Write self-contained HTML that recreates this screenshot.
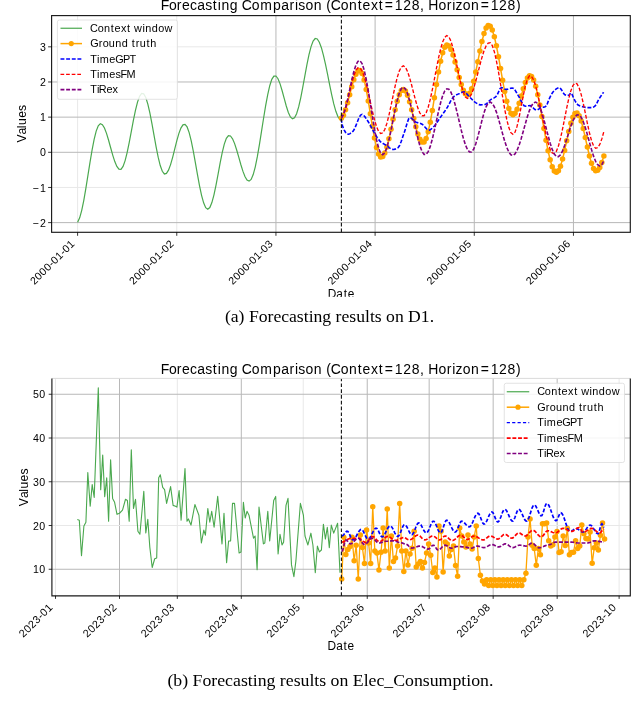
<!DOCTYPE html><html><head><meta charset="utf-8"><style>html,body{margin:0;padding:0;background:#fff;overflow:hidden}svg{display:block;will-change:transform}</style></head><body>
<svg width="640" height="707" viewBox="0 0 640 707">
<rect width="640" height="707" fill="#fff"/>
<line x1="77.60" y1="15.6" x2="77.60" y2="232.3" stroke="#e8e8e8" stroke-width="1"/>
<line x1="176.77" y1="15.6" x2="176.77" y2="232.3" stroke="#e8e8e8" stroke-width="1"/>
<line x1="275.94" y1="15.6" x2="275.94" y2="232.3" stroke="#b8b8b8" stroke-width="1"/>
<line x1="375.10" y1="15.6" x2="375.10" y2="232.3" stroke="#b8b8b8" stroke-width="1"/>
<line x1="474.27" y1="15.6" x2="474.27" y2="232.3" stroke="#b8b8b8" stroke-width="1"/>
<line x1="573.44" y1="15.6" x2="573.44" y2="232.3" stroke="#b8b8b8" stroke-width="1"/>
<line x1="51.6" y1="222.62" x2="630.3" y2="222.62" stroke="#b8b8b8" stroke-width="1"/>
<line x1="51.6" y1="187.46" x2="630.3" y2="187.46" stroke="#e8e8e8" stroke-width="1"/>
<line x1="51.6" y1="152.30" x2="630.3" y2="152.30" stroke="#b8b8b8" stroke-width="1"/>
<line x1="51.6" y1="117.14" x2="630.3" y2="117.14" stroke="#b8b8b8" stroke-width="1"/>
<line x1="51.6" y1="81.98" x2="630.3" y2="81.98" stroke="#b8b8b8" stroke-width="1"/>
<line x1="51.6" y1="46.82" x2="630.3" y2="46.82" stroke="#e8e8e8" stroke-width="1"/>
<path d="M77.60,222.22 L79.67,217.80 L81.73,210.32 L83.80,200.28 L85.86,188.38 L87.93,175.46 L90.00,162.39 L92.06,150.10 L94.13,139.42 L96.19,131.11 L98.26,125.73 L100.33,123.66 L102.39,124.65 L104.46,128.03 L106.52,133.41 L108.59,140.22 L110.66,147.72 L112.72,155.10 L114.79,161.56 L116.85,166.39 L118.92,169.08 L120.99,169.27 L123.05,166.41 L125.12,160.60 L127.18,152.34 L129.25,142.32 L131.32,131.38 L133.38,120.44 L135.45,110.42 L137.51,102.16 L139.58,96.35 L141.65,93.49 L143.71,93.83 L145.78,97.45 L147.84,104.06 L149.91,113.11 L151.98,123.86 L154.04,135.41 L156.11,146.82 L158.17,157.15 L160.24,165.54 L162.31,171.29 L164.37,173.95 L166.44,173.42 L168.50,170.18 L170.57,164.61 L172.64,157.32 L174.70,149.14 L176.77,140.95 L178.83,133.66 L180.90,128.09 L182.97,124.85 L185.03,124.32 L187.10,126.92 L189.16,132.58 L191.23,140.86 L193.30,151.12 L195.36,162.58 L197.43,174.36 L199.49,185.55 L201.56,195.30 L203.63,202.85 L205.69,207.63 L207.76,209.26 L209.82,207.56 L211.89,202.60 L213.96,194.85 L216.02,185.03 L218.09,174.03 L220.15,162.88 L222.22,152.60 L224.29,144.14 L226.35,138.29 L228.42,135.58 L230.48,136.01 L232.55,138.80 L234.62,143.62 L236.68,149.96 L238.75,157.17 L240.81,164.49 L242.88,171.17 L244.95,176.50 L247.01,179.94 L249.08,181.13 L251.14,179.47 L253.21,174.61 L255.28,166.84 L257.34,156.65 L259.41,144.69 L261.47,131.70 L263.54,118.51 L265.61,105.94 L267.67,94.77 L269.74,85.72 L271.80,79.35 L273.87,76.07 L275.94,76.00 L278.00,78.75 L280.07,83.88 L282.13,90.74 L284.20,98.45 L286.27,106.00 L288.33,112.43 L290.40,116.90 L292.46,118.84 L294.53,117.87 L296.60,113.79 L298.66,106.90 L300.73,97.77 L302.79,87.12 L304.86,75.79 L306.93,64.69 L308.99,54.70 L311.06,46.61 L313.12,41.08 L315.19,38.53 L317.26,39.03 L319.32,42.17 L321.39,47.70 L323.45,55.28 L325.52,64.41 L327.59,74.49 L329.65,84.88 L331.72,94.90 L333.78,103.89 L335.85,111.29 L337.92,116.59 L339.98,119.47" fill="none" stroke="#4aa84e" stroke-width="1.2"/>
<path d="M341.39,118.27 L343.45,115.17 L345.52,109.79 L347.59,102.74 L349.66,94.78 L351.72,86.81 L353.79,79.71 L355.86,74.26 L357.92,71.07 L359.99,70.53 L362.06,73.49 L364.12,79.96 L366.19,89.39 L368.26,100.95 L370.33,113.63 L372.39,126.33 L374.46,137.93 L376.53,147.43 L378.59,153.99 L380.66,157.04 L382.73,156.52 L384.79,153.05 L386.86,146.99 L388.93,138.86 L391.00,129.37 L393.06,119.35 L395.13,109.68 L397.20,101.19 L399.26,94.63 L401.33,90.58 L403.40,89.38 L405.46,91.05 L407.53,95.37 L409.60,101.87 L411.67,109.86 L413.73,118.49 L415.80,126.85 L417.87,134.05 L419.93,139.32 L422.00,142.10 L424.07,142.01 L426.14,138.49 L428.20,131.71 L430.27,122.15 L432.34,110.53 L434.40,97.68 L436.47,84.54 L438.54,72.08 L440.60,61.20 L442.67,52.70 L444.74,47.19 L446.81,45.08 L448.87,46.09 L450.94,49.49 L453.01,54.95 L455.07,61.92 L457.14,69.69 L459.21,77.50 L461.27,84.56 L463.34,90.17 L465.41,93.77 L467.48,94.99 L469.54,93.35 L471.61,88.64 L473.68,81.30 L475.74,72.02 L477.81,61.63 L479.88,51.12 L481.95,41.44 L484.01,33.49 L486.08,28.01 L488.15,25.50 L490.21,26.20 L492.28,30.03 L494.35,36.74 L496.41,45.83 L498.48,56.66 L500.55,68.45 L502.62,80.35 L504.68,91.51 L506.75,101.13 L508.82,108.52 L510.88,113.14 L512.95,114.68 L515.02,113.24 L517.08,109.23 L519.15,103.24 L521.22,96.10 L523.29,88.83 L525.35,82.45 L527.42,77.88 L529.49,75.76 L531.55,76.43 L533.62,79.99 L535.69,86.24 L537.76,94.79 L539.82,105.11 L541.89,116.59 L543.96,128.52 L546.02,140.18 L548.09,150.84 L550.16,159.87 L552.22,166.72 L554.29,170.96 L556.36,172.34 L558.43,170.70 L560.49,166.13 L562.56,159.12 L564.63,150.39 L566.69,140.86 L568.76,131.51 L570.83,123.31 L572.89,117.13 L574.96,113.60 L577.03,113.10 L579.10,115.66 L581.16,121.00 L583.23,128.58 L585.30,137.57 L587.36,147.02 L589.43,155.94 L591.50,163.36 L593.56,168.51 L595.63,170.83 L597.70,170.29 L599.77,167.42 L601.83,162.48 L603.90,155.88" fill="none" stroke="#ffa500" stroke-width="1.5"/>
<circle cx="341.39" cy="118.27" r="2.75" fill="#ffa500"/>
<circle cx="343.45" cy="115.17" r="2.75" fill="#ffa500"/>
<circle cx="345.52" cy="109.79" r="2.75" fill="#ffa500"/>
<circle cx="347.59" cy="102.74" r="2.75" fill="#ffa500"/>
<circle cx="349.66" cy="94.78" r="2.75" fill="#ffa500"/>
<circle cx="351.72" cy="86.81" r="2.75" fill="#ffa500"/>
<circle cx="353.79" cy="79.71" r="2.75" fill="#ffa500"/>
<circle cx="355.86" cy="74.26" r="2.75" fill="#ffa500"/>
<circle cx="357.92" cy="71.07" r="2.75" fill="#ffa500"/>
<circle cx="359.99" cy="70.53" r="2.75" fill="#ffa500"/>
<circle cx="362.06" cy="73.49" r="2.75" fill="#ffa500"/>
<circle cx="364.12" cy="79.96" r="2.75" fill="#ffa500"/>
<circle cx="366.19" cy="89.39" r="2.75" fill="#ffa500"/>
<circle cx="368.26" cy="100.95" r="2.75" fill="#ffa500"/>
<circle cx="370.33" cy="113.63" r="2.75" fill="#ffa500"/>
<circle cx="372.39" cy="126.33" r="2.75" fill="#ffa500"/>
<circle cx="374.46" cy="137.93" r="2.75" fill="#ffa500"/>
<circle cx="376.53" cy="147.43" r="2.75" fill="#ffa500"/>
<circle cx="378.59" cy="153.99" r="2.75" fill="#ffa500"/>
<circle cx="380.66" cy="157.04" r="2.75" fill="#ffa500"/>
<circle cx="382.73" cy="156.52" r="2.75" fill="#ffa500"/>
<circle cx="384.79" cy="153.05" r="2.75" fill="#ffa500"/>
<circle cx="386.86" cy="146.99" r="2.75" fill="#ffa500"/>
<circle cx="388.93" cy="138.86" r="2.75" fill="#ffa500"/>
<circle cx="391.00" cy="129.37" r="2.75" fill="#ffa500"/>
<circle cx="393.06" cy="119.35" r="2.75" fill="#ffa500"/>
<circle cx="395.13" cy="109.68" r="2.75" fill="#ffa500"/>
<circle cx="397.20" cy="101.19" r="2.75" fill="#ffa500"/>
<circle cx="399.26" cy="94.63" r="2.75" fill="#ffa500"/>
<circle cx="401.33" cy="90.58" r="2.75" fill="#ffa500"/>
<circle cx="403.40" cy="89.38" r="2.75" fill="#ffa500"/>
<circle cx="405.46" cy="91.05" r="2.75" fill="#ffa500"/>
<circle cx="407.53" cy="95.37" r="2.75" fill="#ffa500"/>
<circle cx="409.60" cy="101.87" r="2.75" fill="#ffa500"/>
<circle cx="411.67" cy="109.86" r="2.75" fill="#ffa500"/>
<circle cx="413.73" cy="118.49" r="2.75" fill="#ffa500"/>
<circle cx="415.80" cy="126.85" r="2.75" fill="#ffa500"/>
<circle cx="417.87" cy="134.05" r="2.75" fill="#ffa500"/>
<circle cx="419.93" cy="139.32" r="2.75" fill="#ffa500"/>
<circle cx="422.00" cy="142.10" r="2.75" fill="#ffa500"/>
<circle cx="424.07" cy="142.01" r="2.75" fill="#ffa500"/>
<circle cx="426.14" cy="138.49" r="2.75" fill="#ffa500"/>
<circle cx="428.20" cy="131.71" r="2.75" fill="#ffa500"/>
<circle cx="430.27" cy="122.15" r="2.75" fill="#ffa500"/>
<circle cx="432.34" cy="110.53" r="2.75" fill="#ffa500"/>
<circle cx="434.40" cy="97.68" r="2.75" fill="#ffa500"/>
<circle cx="436.47" cy="84.54" r="2.75" fill="#ffa500"/>
<circle cx="438.54" cy="72.08" r="2.75" fill="#ffa500"/>
<circle cx="440.60" cy="61.20" r="2.75" fill="#ffa500"/>
<circle cx="442.67" cy="52.70" r="2.75" fill="#ffa500"/>
<circle cx="444.74" cy="47.19" r="2.75" fill="#ffa500"/>
<circle cx="446.81" cy="45.08" r="2.75" fill="#ffa500"/>
<circle cx="448.87" cy="46.09" r="2.75" fill="#ffa500"/>
<circle cx="450.94" cy="49.49" r="2.75" fill="#ffa500"/>
<circle cx="453.01" cy="54.95" r="2.75" fill="#ffa500"/>
<circle cx="455.07" cy="61.92" r="2.75" fill="#ffa500"/>
<circle cx="457.14" cy="69.69" r="2.75" fill="#ffa500"/>
<circle cx="459.21" cy="77.50" r="2.75" fill="#ffa500"/>
<circle cx="461.27" cy="84.56" r="2.75" fill="#ffa500"/>
<circle cx="463.34" cy="90.17" r="2.75" fill="#ffa500"/>
<circle cx="465.41" cy="93.77" r="2.75" fill="#ffa500"/>
<circle cx="467.48" cy="94.99" r="2.75" fill="#ffa500"/>
<circle cx="469.54" cy="93.35" r="2.75" fill="#ffa500"/>
<circle cx="471.61" cy="88.64" r="2.75" fill="#ffa500"/>
<circle cx="473.68" cy="81.30" r="2.75" fill="#ffa500"/>
<circle cx="475.74" cy="72.02" r="2.75" fill="#ffa500"/>
<circle cx="477.81" cy="61.63" r="2.75" fill="#ffa500"/>
<circle cx="479.88" cy="51.12" r="2.75" fill="#ffa500"/>
<circle cx="481.95" cy="41.44" r="2.75" fill="#ffa500"/>
<circle cx="484.01" cy="33.49" r="2.75" fill="#ffa500"/>
<circle cx="486.08" cy="28.01" r="2.75" fill="#ffa500"/>
<circle cx="488.15" cy="25.50" r="2.75" fill="#ffa500"/>
<circle cx="490.21" cy="26.20" r="2.75" fill="#ffa500"/>
<circle cx="492.28" cy="30.03" r="2.75" fill="#ffa500"/>
<circle cx="494.35" cy="36.74" r="2.75" fill="#ffa500"/>
<circle cx="496.41" cy="45.83" r="2.75" fill="#ffa500"/>
<circle cx="498.48" cy="56.66" r="2.75" fill="#ffa500"/>
<circle cx="500.55" cy="68.45" r="2.75" fill="#ffa500"/>
<circle cx="502.62" cy="80.35" r="2.75" fill="#ffa500"/>
<circle cx="504.68" cy="91.51" r="2.75" fill="#ffa500"/>
<circle cx="506.75" cy="101.13" r="2.75" fill="#ffa500"/>
<circle cx="508.82" cy="108.52" r="2.75" fill="#ffa500"/>
<circle cx="510.88" cy="113.14" r="2.75" fill="#ffa500"/>
<circle cx="512.95" cy="114.68" r="2.75" fill="#ffa500"/>
<circle cx="515.02" cy="113.24" r="2.75" fill="#ffa500"/>
<circle cx="517.08" cy="109.23" r="2.75" fill="#ffa500"/>
<circle cx="519.15" cy="103.24" r="2.75" fill="#ffa500"/>
<circle cx="521.22" cy="96.10" r="2.75" fill="#ffa500"/>
<circle cx="523.29" cy="88.83" r="2.75" fill="#ffa500"/>
<circle cx="525.35" cy="82.45" r="2.75" fill="#ffa500"/>
<circle cx="527.42" cy="77.88" r="2.75" fill="#ffa500"/>
<circle cx="529.49" cy="75.76" r="2.75" fill="#ffa500"/>
<circle cx="531.55" cy="76.43" r="2.75" fill="#ffa500"/>
<circle cx="533.62" cy="79.99" r="2.75" fill="#ffa500"/>
<circle cx="535.69" cy="86.24" r="2.75" fill="#ffa500"/>
<circle cx="537.76" cy="94.79" r="2.75" fill="#ffa500"/>
<circle cx="539.82" cy="105.11" r="2.75" fill="#ffa500"/>
<circle cx="541.89" cy="116.59" r="2.75" fill="#ffa500"/>
<circle cx="543.96" cy="128.52" r="2.75" fill="#ffa500"/>
<circle cx="546.02" cy="140.18" r="2.75" fill="#ffa500"/>
<circle cx="548.09" cy="150.84" r="2.75" fill="#ffa500"/>
<circle cx="550.16" cy="159.87" r="2.75" fill="#ffa500"/>
<circle cx="552.22" cy="166.72" r="2.75" fill="#ffa500"/>
<circle cx="554.29" cy="170.96" r="2.75" fill="#ffa500"/>
<circle cx="556.36" cy="172.34" r="2.75" fill="#ffa500"/>
<circle cx="558.43" cy="170.70" r="2.75" fill="#ffa500"/>
<circle cx="560.49" cy="166.13" r="2.75" fill="#ffa500"/>
<circle cx="562.56" cy="159.12" r="2.75" fill="#ffa500"/>
<circle cx="564.63" cy="150.39" r="2.75" fill="#ffa500"/>
<circle cx="566.69" cy="140.86" r="2.75" fill="#ffa500"/>
<circle cx="568.76" cy="131.51" r="2.75" fill="#ffa500"/>
<circle cx="570.83" cy="123.31" r="2.75" fill="#ffa500"/>
<circle cx="572.89" cy="117.13" r="2.75" fill="#ffa500"/>
<circle cx="574.96" cy="113.60" r="2.75" fill="#ffa500"/>
<circle cx="577.03" cy="113.10" r="2.75" fill="#ffa500"/>
<circle cx="579.10" cy="115.66" r="2.75" fill="#ffa500"/>
<circle cx="581.16" cy="121.00" r="2.75" fill="#ffa500"/>
<circle cx="583.23" cy="128.58" r="2.75" fill="#ffa500"/>
<circle cx="585.30" cy="137.57" r="2.75" fill="#ffa500"/>
<circle cx="587.36" cy="147.02" r="2.75" fill="#ffa500"/>
<circle cx="589.43" cy="155.94" r="2.75" fill="#ffa500"/>
<circle cx="591.50" cy="163.36" r="2.75" fill="#ffa500"/>
<circle cx="593.56" cy="168.51" r="2.75" fill="#ffa500"/>
<circle cx="595.63" cy="170.83" r="2.75" fill="#ffa500"/>
<circle cx="597.70" cy="170.29" r="2.75" fill="#ffa500"/>
<circle cx="599.77" cy="167.42" r="2.75" fill="#ffa500"/>
<circle cx="601.83" cy="162.48" r="2.75" fill="#ffa500"/>
<circle cx="603.90" cy="155.88" r="2.75" fill="#ffa500"/>
<path d="M341.10,118.90 L342.60,126.32 L344.10,129.89 L345.60,132.52 L347.10,134.09 L348.60,134.30 L350.10,133.63 L351.60,132.47 L353.10,131.11 L354.60,128.74 L356.10,125.17 L357.60,121.17 L359.10,117.52 L360.60,115.01 L362.10,114.37 L363.60,115.28 L365.10,117.07 L366.60,119.29 L368.10,121.50 L369.60,123.93 L371.10,126.76 L372.60,129.67 L374.10,132.37 L375.60,134.85 L377.10,137.33 L378.60,139.58 L380.10,141.38 L381.60,142.61 L383.10,143.55 L384.60,144.39 L386.10,145.32 L387.60,146.47 L389.10,147.67 L390.60,148.71 L392.10,149.36 L393.60,149.46 L395.10,149.12 L396.60,148.50 L398.10,147.66 L399.60,145.51 L401.10,141.76 L402.60,137.30 L404.10,133.00 L405.60,128.44 L407.10,123.17 L408.60,118.94 L410.10,117.50 L411.60,118.30 L413.10,119.80 L414.60,121.29 L416.10,122.14 L417.60,122.62 L419.10,123.01 L420.60,123.46 L422.10,124.17 L423.60,125.53 L425.10,127.24 L426.60,128.86 L428.10,129.94 L429.60,130.06 L431.10,129.18 L432.60,127.74 L434.10,126.18 L435.60,124.40 L437.10,122.25 L438.60,119.95 L440.10,117.70 L441.60,115.62 L443.10,113.56 L444.60,111.47 L446.10,109.30 L447.60,106.88 L449.10,104.06 L450.60,101.19 L452.10,98.63 L453.60,96.74 L455.10,95.64 L456.60,94.80 L458.10,94.12 L459.60,93.50 L461.10,92.83 L462.60,92.13 L464.10,91.83 L465.60,92.60 L467.10,94.23 L468.60,96.00 L470.10,97.48 L471.60,99.06 L473.10,100.60 L474.60,101.91 L476.10,102.94 L477.60,103.92 L479.10,104.63 L480.60,104.83 L482.10,104.78 L483.60,104.67 L485.10,104.50 L486.60,103.76 L488.10,102.15 L489.60,100.47 L491.10,99.36 L492.60,98.59 L494.10,97.86 L495.60,96.93 L497.10,95.20 L498.60,91.81 L500.10,88.60 L501.60,87.63 L503.10,88.15 L504.60,88.92 L506.10,89.36 L507.60,89.20 L509.10,88.75 L510.60,88.27 L512.10,87.97 L513.60,88.42 L515.10,90.20 L516.60,92.74 L518.10,95.38 L519.60,97.81 L521.10,100.85 L522.60,103.83 L524.10,105.85 L525.60,106.21 L527.10,105.97 L528.60,105.67 L530.10,105.54 L531.60,106.28 L533.10,107.80 L534.60,109.32 L536.10,110.10 L537.60,109.76 L539.10,108.87 L540.60,107.94 L542.10,107.40 L543.60,107.10 L545.10,106.74 L546.60,105.85 L548.10,101.66 L549.60,98.11 L551.10,95.06 L552.60,92.50 L554.10,90.80 L555.60,89.46 L557.10,88.36 L558.60,87.71 L560.10,87.90 L561.60,89.99 L563.10,92.75 L564.60,94.59 L566.10,95.22 L567.60,95.63 L569.10,95.11 L570.60,92.93 L572.10,94.50 L573.60,98.08 L575.10,100.88 L576.60,103.52 L578.10,105.01 L579.60,105.73 L581.10,106.22 L582.60,106.62 L584.10,107.01 L585.60,107.36 L587.10,107.60 L588.60,107.65 L590.10,107.65 L591.60,107.65 L593.10,107.36 L594.60,106.40 L596.10,104.88 L597.60,101.58 L599.10,98.77 L600.60,96.57 L602.10,94.31 L603.60,92.18" fill="none" stroke="#0000ff" stroke-width="1.6" stroke-dasharray="3.9 1.75"/>
<path d="M341.39,118.19 L343.45,114.70 L345.52,108.67 L347.59,100.81 L349.66,92.06 L351.72,83.45 L353.79,75.99 L355.86,70.57 L357.92,67.83 L359.99,68.03 L362.06,70.95 L364.12,76.32 L366.19,83.70 L368.26,92.47 L370.33,101.92 L372.39,111.26 L374.46,119.72 L376.53,126.60 L378.59,131.33 L380.66,133.53 L382.73,132.96 L384.79,129.49 L386.86,123.43 L388.93,115.30 L391.00,105.82 L393.06,95.80 L395.13,86.12 L397.20,77.64 L399.26,71.08 L401.33,67.02 L403.40,65.82 L405.46,67.40 L407.53,71.49 L409.60,77.65 L411.67,85.21 L413.73,93.39 L415.80,101.31 L417.87,108.12 L419.93,113.11 L422.00,115.75 L424.07,115.72 L426.14,112.81 L428.20,107.20 L430.27,99.30 L432.34,89.69 L434.40,79.07 L436.47,68.21 L438.54,57.91 L440.60,48.91 L442.67,41.88 L444.74,37.33 L446.81,35.58 L448.87,36.86 L450.94,41.15 L453.01,48.04 L455.07,56.82 L457.14,66.62 L459.21,76.46 L461.27,85.36 L463.34,92.43 L465.41,96.97 L467.48,98.51 L469.54,97.28 L471.61,93.77 L473.68,88.27 L475.74,81.25 L477.81,73.31 L479.88,65.14 L481.95,57.43 L484.01,50.85 L486.08,45.95 L488.15,43.16 L490.21,42.78 L492.28,45.64 L494.35,51.80 L496.41,60.77 L498.48,71.88 L500.55,84.26 L502.62,96.97 L504.68,109.03 L506.75,119.50 L508.82,127.59 L510.88,132.68 L512.95,134.37 L515.02,132.20 L517.08,126.18 L519.15,117.16 L521.22,106.41 L523.29,95.47 L525.35,85.88 L527.42,79.00 L529.49,75.81 L531.55,76.42 L533.62,79.91 L535.69,85.99 L537.76,94.20 L539.82,103.92 L541.89,114.45 L543.96,124.99 L546.02,134.77 L548.09,143.06 L550.16,149.23 L552.22,152.85 L554.29,153.62 L556.36,151.33 L558.43,146.11 L560.49,138.42 L562.56,128.95 L564.63,118.54 L566.69,108.11 L568.76,98.60 L570.83,90.84 L572.89,85.53 L574.96,83.14 L577.03,83.91 L579.10,87.79 L581.16,94.40 L583.23,103.11 L585.30,113.06 L587.36,123.26 L589.43,132.73 L591.50,140.53 L593.56,145.91 L595.63,148.32 L597.70,147.70 L599.77,144.47 L601.83,138.90 L603.90,131.46" fill="none" stroke="#ff0000" stroke-width="1.35" stroke-dasharray="3.7 1.9"/>
<path d="M341.39,118.15 L343.45,114.41 L345.52,107.95 L347.59,99.46 L349.66,89.89 L351.72,80.30 L353.79,71.76 L355.86,65.20 L357.92,61.36 L359.99,60.68 L362.06,63.56 L364.12,69.89 L366.19,79.17 L368.26,90.68 L370.33,103.52 L372.39,116.68 L374.46,129.13 L376.53,139.90 L378.59,148.15 L380.66,153.23 L382.73,154.75 L384.79,152.80 L386.86,147.74 L388.93,140.05 L391.00,130.51 L393.06,120.03 L395.13,109.64 L397.20,100.37 L399.26,93.13 L401.33,88.61 L403.40,87.27 L405.46,89.02 L407.53,93.56 L409.60,100.50 L411.67,109.23 L413.73,118.98 L415.80,128.92 L417.87,138.16 L419.93,145.91 L422.00,151.48 L424.07,154.39 L426.14,154.41 L428.20,151.66 L430.27,146.39 L432.34,139.05 L434.40,130.24 L436.47,120.72 L438.54,111.28 L440.60,102.72 L442.67,95.76 L444.74,90.98 L446.81,88.78 L448.87,89.28 L450.94,92.24 L453.01,97.40 L455.07,104.37 L457.14,112.60 L459.21,121.45 L461.27,130.22 L463.34,138.23 L465.41,144.85 L467.48,149.56 L469.54,152.00 L471.61,151.93 L473.68,149.16 L475.74,143.95 L477.81,136.87 L479.88,128.73 L481.95,120.41 L484.01,112.83 L486.08,106.85 L488.15,103.11 L490.21,102.04 L492.28,103.39 L494.35,106.84 L496.41,112.10 L498.48,118.73 L500.55,126.19 L502.62,133.86 L504.68,141.11 L506.75,147.34 L508.82,152.03 L510.88,154.79 L512.95,155.41 L515.02,153.88 L517.08,150.35 L519.15,145.10 L521.22,138.54 L523.29,131.20 L525.35,123.67 L527.42,116.54 L529.49,110.39 L531.55,105.69 L533.62,102.83 L535.69,102.04 L537.76,103.51 L539.82,107.20 L541.89,112.80 L543.96,119.82 L546.02,127.67 L548.09,135.67 L550.16,143.14 L552.22,149.43 L554.29,154.01 L556.36,156.49 L558.43,156.67 L560.49,154.73 L562.56,150.89 L564.63,145.54 L566.69,139.21 L568.76,132.54 L570.83,126.19 L572.89,120.81 L574.96,116.91 L577.03,114.91 L579.10,115.00 L581.16,117.30 L583.23,121.61 L585.30,127.55 L587.36,134.61 L589.43,142.17 L591.50,149.57 L593.56,156.17 L595.63,161.38 L597.70,164.76 L599.77,166.01 L601.83,164.69 L603.90,160.56" fill="none" stroke="#800080" stroke-width="1.6" stroke-dasharray="3.9 1.75"/>
<line x1="341.4" y1="232.3" x2="341.4" y2="15.6" stroke="#111" stroke-width="1.1" stroke-dasharray="3.7 2.1"/>
<rect x="51.6" y="15.6" width="578.6999999999999" height="216.70000000000002" fill="none" stroke="#1a1a1a" stroke-width="1.15"/>
<line x1="48.1" y1="222.62" x2="51.6" y2="222.62" stroke="#000" stroke-width="0.8"/>
<text x="32.45 39.97" y="226.72" font-size="10.60" font-family='"Liberation Sans", sans-serif' fill="#000">−2</text>
<line x1="48.1" y1="187.46" x2="51.6" y2="187.46" stroke="#000" stroke-width="0.8"/>
<text x="32.45 39.97" y="191.56" font-size="10.60" font-family='"Liberation Sans", sans-serif' fill="#000">−1</text>
<line x1="48.1" y1="152.30" x2="51.6" y2="152.30" stroke="#000" stroke-width="0.8"/>
<text x="39.97" y="156.40" font-size="10.60" font-family='"Liberation Sans", sans-serif' fill="#000">0</text>
<line x1="48.1" y1="117.14" x2="51.6" y2="117.14" stroke="#000" stroke-width="0.8"/>
<text x="39.97" y="121.24" font-size="10.60" font-family='"Liberation Sans", sans-serif' fill="#000">1</text>
<line x1="48.1" y1="81.98" x2="51.6" y2="81.98" stroke="#000" stroke-width="0.8"/>
<text x="39.97" y="86.08" font-size="10.60" font-family='"Liberation Sans", sans-serif' fill="#000">2</text>
<line x1="48.1" y1="46.82" x2="51.6" y2="46.82" stroke="#000" stroke-width="0.8"/>
<text x="39.97" y="50.92" font-size="10.60" font-family='"Liberation Sans", sans-serif' fill="#000">3</text>
<line x1="77.60" y1="232.3" x2="77.60" y2="235.8" stroke="#000" stroke-width="0.8"/>
<text x="-57.88 -51.52 -45.16 -38.79 -32.63 -28.82 -22.46 -16.29 -12.49 -6.13" y="0.00" transform="translate(75.30,244.30) rotate(-45)" font-size="10.60" font-family='"Liberation Sans", sans-serif' fill="#000">2000-01-01</text>
<line x1="176.77" y1="232.3" x2="176.77" y2="235.8" stroke="#000" stroke-width="0.8"/>
<text x="-57.88 -51.52 -45.16 -38.79 -32.63 -28.82 -22.46 -16.29 -12.49 -6.13" y="0.00" transform="translate(174.47,244.30) rotate(-45)" font-size="10.60" font-family='"Liberation Sans", sans-serif' fill="#000">2000-01-02</text>
<line x1="275.94" y1="232.3" x2="275.94" y2="235.8" stroke="#000" stroke-width="0.8"/>
<text x="-57.88 -51.52 -45.16 -38.79 -32.63 -28.82 -22.46 -16.29 -12.49 -6.13" y="0.00" transform="translate(273.64,244.30) rotate(-45)" font-size="10.60" font-family='"Liberation Sans", sans-serif' fill="#000">2000-01-03</text>
<line x1="375.10" y1="232.3" x2="375.10" y2="235.8" stroke="#000" stroke-width="0.8"/>
<text x="-57.88 -51.52 -45.16 -38.79 -32.63 -28.82 -22.46 -16.29 -12.49 -6.13" y="0.00" transform="translate(372.80,244.30) rotate(-45)" font-size="10.60" font-family='"Liberation Sans", sans-serif' fill="#000">2000-01-04</text>
<line x1="474.27" y1="232.3" x2="474.27" y2="235.8" stroke="#000" stroke-width="0.8"/>
<text x="-57.88 -51.52 -45.16 -38.79 -32.63 -28.82 -22.46 -16.29 -12.49 -6.13" y="0.00" transform="translate(471.97,244.30) rotate(-45)" font-size="10.60" font-family='"Liberation Sans", sans-serif' fill="#000">2000-01-05</text>
<line x1="573.44" y1="232.3" x2="573.44" y2="235.8" stroke="#000" stroke-width="0.8"/>
<text x="-57.88 -51.52 -45.16 -38.79 -32.63 -28.82 -22.46 -16.29 -12.49 -6.13" y="0.00" transform="translate(571.14,244.30) rotate(-45)" font-size="10.60" font-family='"Liberation Sans", sans-serif' fill="#000">2000-01-06</text>
<text x="327.64 336.37 343.65 347.64" y="298.30" font-size="11.87" font-family='"Liberation Sans", sans-serif' fill="#000">Date</text>
<text x="-18.92 -10.78 -4.52 -1.31 5.87 12.74" y="0.00" transform="translate(26.20,123.70) rotate(-90)" font-size="12.19" font-family='"Liberation Sans", sans-serif' fill="#000">Values</text>
<text x="160.67 168.95 176.83 182.10 189.95 197.29 205.22 212.84 217.68 221.41 229.85 238.13 241.78 251.66 260.27 272.90 281.20 289.56 294.92 298.29 305.43 313.72 321.99 326.31 330.83 340.70 348.99 357.75 362.51 370.93 378.79 384.83 394.83 403.29 411.75 420.04 424.27 428.28 438.51 446.87 452.22 455.62 462.79 471.07 480.66 490.66 499.12 507.59 515.97" y="10.40" font-size="13.97" font-family='"Liberation Sans", sans-serif' fill="#000">Forecasting Comparison (Context=128, Horizon=128)</text>
<rect x="57.4" y="20" width="120.0" height="79.3" rx="2" fill="#fff" fill-opacity="0.85" stroke="#dcdcdc" stroke-width="0.8"/>
<line x1="60.5" y1="28.25" x2="82" y2="28.25" stroke="#4aa84e" stroke-width="1.2"/>
<text x="90.06 97.67 104.06 110.82 114.48 120.97 127.04 130.68 134.08 142.41 145.27 151.77 158.16 164.59" y="31.95" font-size="10.87" font-family='"Liberation Sans", sans-serif' fill="#000">Context window</text>
<line x1="60.5" y1="43.6" x2="82" y2="43.6" stroke="#ffa500" stroke-width="1.5"/>
<circle cx="71.25" cy="43.6" r="2.6" fill="#ffa500"/>
<text x="90.15 98.64 102.67 108.83 115.32 121.83 128.22 131.86 135.67 139.82 146.59 150.33" y="47.30" font-size="10.87" font-family='"Liberation Sans", sans-serif' fill="#000">Ground truth</text>
<line x1="60.5" y1="58.95" x2="82" y2="58.95" stroke="#0000ff" stroke-width="1.6" stroke-dasharray="3.9 1.75"/>
<text x="90.21 96.88 99.66 109.31 115.23 122.89 129.42" y="62.65" font-size="10.87" font-family='"Liberation Sans", sans-serif' fill="#000">TimeGPT</text>
<line x1="60.5" y1="74.3" x2="82" y2="74.3" stroke="#ff0000" stroke-width="1.35" stroke-dasharray="3.7 1.9"/>
<text x="90.21 96.88 99.66 109.31 115.44 120.45 126.62" y="78.00" font-size="10.87" font-family='"Liberation Sans", sans-serif' fill="#000">TimesFM</text>
<line x1="60.5" y1="89.65" x2="82" y2="89.65" stroke="#800080" stroke-width="1.6" stroke-dasharray="3.9 1.75"/>
<text x="90.21 96.88 98.83 106.45 112.48" y="93.35" font-size="10.87" font-family='"Liberation Sans", sans-serif' fill="#000">TiRex</text>
<rect x="0" y="296.8" width="640" height="10" fill="#fff"/>
<line x1="55.50" y1="378.4" x2="55.50" y2="595.9" stroke="#e8e8e8" stroke-width="1"/>
<line x1="119.50" y1="378.4" x2="119.50" y2="595.9" stroke="#b8b8b8" stroke-width="1"/>
<line x1="177.31" y1="378.4" x2="177.31" y2="595.9" stroke="#e8e8e8" stroke-width="1"/>
<line x1="241.30" y1="378.4" x2="241.30" y2="595.9" stroke="#b8b8b8" stroke-width="1"/>
<line x1="303.24" y1="378.4" x2="303.24" y2="595.9" stroke="#e8e8e8" stroke-width="1"/>
<line x1="367.24" y1="378.4" x2="367.24" y2="595.9" stroke="#b8b8b8" stroke-width="1"/>
<line x1="429.17" y1="378.4" x2="429.17" y2="595.9" stroke="#b8b8b8" stroke-width="1"/>
<line x1="493.17" y1="378.4" x2="493.17" y2="595.9" stroke="#b8b8b8" stroke-width="1"/>
<line x1="557.17" y1="378.4" x2="557.17" y2="595.9" stroke="#b8b8b8" stroke-width="1"/>
<line x1="619.11" y1="378.4" x2="619.11" y2="595.9" stroke="#e8e8e8" stroke-width="1"/>
<line x1="51.9" y1="569.25" x2="630.3" y2="569.25" stroke="#b8b8b8" stroke-width="1"/>
<line x1="51.9" y1="525.50" x2="630.3" y2="525.50" stroke="#e8e8e8" stroke-width="1"/>
<line x1="51.9" y1="481.75" x2="630.3" y2="481.75" stroke="#b8b8b8" stroke-width="1"/>
<line x1="51.9" y1="438.00" x2="630.3" y2="438.00" stroke="#b8b8b8" stroke-width="1"/>
<line x1="51.9" y1="394.25" x2="630.3" y2="394.25" stroke="#b8b8b8" stroke-width="1"/>
<path d="M77.30,519.59 L79.30,520.25 L81.50,555.69 L83.90,525.94 L85.90,522.22 L87.80,472.56 L90.20,506.25 L92.20,484.59 L94.20,497.50 L98.30,387.69 L100.70,489.62 L102.70,455.06 L104.70,496.62 L106.70,477.81 L108.60,521.30 L110.60,459.88 L112.60,498.38 L114.60,502.31 L117.00,514.34 L119.50,513.25 L122.50,510.19 L125.50,499.25 L127.40,500.56 L129.20,521.12 L131.30,449.81 L133.50,508.44 L135.50,499.25 L137.90,531.19 L139.90,534.25 L143.80,491.38 L145.80,532.94 L147.80,519.38 L149.80,546.94 L152.20,567.50 L154.70,558.75 L156.70,557.88 L158.70,477.81 L160.30,474.75 L162.70,487.44 L164.60,489.62 L166.60,503.41 L170.60,486.56 L173.10,505.38 L175.50,506.25 L176.90,507.12 L179.10,490.50 L181.10,520.25 L185.00,468.62 L187.00,521.12 L188.40,518.94 L191.00,525.06 L194.90,504.50 L198.90,515.22 L201.40,543.00 L203.80,530.09 L205.40,535.12 L207.80,508.44 L209.80,522.22 L211.70,511.28 L214.10,527.25 L217.70,496.41 L222.00,543.88 L224.00,513.25 L226.60,562.69 L228.60,541.03 L230.60,541.03 L232.50,503.41 L234.50,503.41 L239.10,553.06 L241.00,551.97 L243.40,502.31 L245.20,518.06 L247.00,511.28 L249.00,515.22 L253.50,538.19 L255.10,536.00 L257.10,569.69 L259.00,507.12 L261.40,527.25 L263.40,543.88 L264.80,543.00 L267.80,511.28 L269.70,541.03 L273.70,500.56 L275.70,496.41 L278.10,553.94 L280.00,534.25 L282.00,544.97 L283.60,542.12 L286.00,505.38 L288.00,498.38 L291.50,564.88 L293.90,576.69 L295.90,560.94 L300.40,503.41 L303.40,515.22 L305.00,536.00 L307.90,544.97 L310.90,533.16 L312.90,544.97 L315.30,572.75 L317.40,546.06 L319.40,551.97 L321.40,550.00 L323.40,524.19 L325.40,539.06 L327.30,527.25 L329.30,547.81 L331.30,525.06 L333.70,533.16 L337.60,523.31 L340.00,572.75" fill="none" stroke="#4aa84e" stroke-width="1.1" stroke-linejoin="round"/>
<path d="M341.70,579.09 L343.77,537.31 L345.84,554.38 L347.91,549.56 L349.98,546.50 L352.05,537.31 L354.12,560.72 L356.19,545.19 L358.26,579.09 L360.33,535.12 L362.40,547.38 L364.47,563.56 L366.54,529.88 L368.61,543.00 L370.68,563.56 L372.75,506.69 L374.82,550.88 L376.89,553.06 L378.96,569.91 L381.03,552.19 L383.10,528.12 L385.17,550.88 L387.24,508.88 L389.31,567.94 L391.38,536.00 L393.45,561.38 L395.52,557.88 L397.59,546.06 L399.66,503.41 L401.73,550.88 L403.80,571.44 L405.87,550.88 L407.94,564.88 L410.01,553.94 L412.08,548.25 L414.15,531.19 L416.22,567.06 L418.29,564.00 L420.36,561.59 L422.43,567.94 L424.50,562.47 L426.57,553.06 L428.64,543.88 L430.71,555.25 L432.78,572.53 L434.85,567.94 L436.92,577.12 L438.99,525.94 L441.06,531.19 L443.13,571.88 L445.20,542.12 L447.27,543.88 L449.34,556.12 L451.41,549.56 L453.48,546.06 L455.55,565.53 L457.62,576.25 L459.69,528.12 L461.76,536.00 L463.83,542.12 L465.90,546.94 L467.97,535.12 L470.04,543.88 L472.11,549.12 L474.18,536.88 L476.25,525.94 L478.32,558.53 L480.39,575.16 L482.46,581.06 L484.53,584.12 L486.60,579.75 L488.67,585.44 L490.74,579.75 L492.81,585.44 L494.88,579.75 L496.95,585.44 L499.02,579.75 L501.09,585.44 L503.16,579.75 L505.23,585.44 L507.30,579.75 L509.37,585.44 L511.44,579.75 L513.51,585.44 L515.58,579.75 L517.65,585.44 L519.72,579.75 L521.79,585.44 L523.86,579.75 L525.93,573.19 L528.00,536.88 L530.07,518.94 L532.14,545.19 L534.21,548.47 L536.28,565.31 L538.35,548.47 L540.42,554.81 L542.49,523.75 L544.56,523.75 L546.63,522.88 L548.70,540.81 L550.77,546.06 L552.84,544.75 L554.91,536.88 L556.98,531.41 L559.05,552.41 L561.12,551.75 L563.19,536.00 L565.26,545.41 L567.33,528.34 L569.40,554.81 L571.47,552.41 L573.54,552.19 L575.61,540.81 L577.68,548.47 L579.75,546.06 L581.82,525.06 L583.89,533.81 L585.96,538.41 L588.03,539.06 L590.10,532.06 L592.17,563.34 L594.24,547.81 L596.31,543.00 L598.38,550.00 L600.45,535.34 L602.52,522.88 L604.59,539.06" fill="none" stroke="#ffa500" stroke-width="1.3" stroke-linejoin="round"/>
<circle cx="341.70" cy="579.09" r="2.75" fill="#ffa500"/>
<circle cx="343.77" cy="537.31" r="2.75" fill="#ffa500"/>
<circle cx="345.84" cy="554.38" r="2.75" fill="#ffa500"/>
<circle cx="347.91" cy="549.56" r="2.75" fill="#ffa500"/>
<circle cx="349.98" cy="546.50" r="2.75" fill="#ffa500"/>
<circle cx="352.05" cy="537.31" r="2.75" fill="#ffa500"/>
<circle cx="354.12" cy="560.72" r="2.75" fill="#ffa500"/>
<circle cx="356.19" cy="545.19" r="2.75" fill="#ffa500"/>
<circle cx="358.26" cy="579.09" r="2.75" fill="#ffa500"/>
<circle cx="360.33" cy="535.12" r="2.75" fill="#ffa500"/>
<circle cx="362.40" cy="547.38" r="2.75" fill="#ffa500"/>
<circle cx="364.47" cy="563.56" r="2.75" fill="#ffa500"/>
<circle cx="366.54" cy="529.88" r="2.75" fill="#ffa500"/>
<circle cx="368.61" cy="543.00" r="2.75" fill="#ffa500"/>
<circle cx="370.68" cy="563.56" r="2.75" fill="#ffa500"/>
<circle cx="372.75" cy="506.69" r="2.75" fill="#ffa500"/>
<circle cx="374.82" cy="550.88" r="2.75" fill="#ffa500"/>
<circle cx="376.89" cy="553.06" r="2.75" fill="#ffa500"/>
<circle cx="378.96" cy="569.91" r="2.75" fill="#ffa500"/>
<circle cx="381.03" cy="552.19" r="2.75" fill="#ffa500"/>
<circle cx="383.10" cy="528.12" r="2.75" fill="#ffa500"/>
<circle cx="385.17" cy="550.88" r="2.75" fill="#ffa500"/>
<circle cx="387.24" cy="508.88" r="2.75" fill="#ffa500"/>
<circle cx="389.31" cy="567.94" r="2.75" fill="#ffa500"/>
<circle cx="391.38" cy="536.00" r="2.75" fill="#ffa500"/>
<circle cx="393.45" cy="561.38" r="2.75" fill="#ffa500"/>
<circle cx="395.52" cy="557.88" r="2.75" fill="#ffa500"/>
<circle cx="397.59" cy="546.06" r="2.75" fill="#ffa500"/>
<circle cx="399.66" cy="503.41" r="2.75" fill="#ffa500"/>
<circle cx="401.73" cy="550.88" r="2.75" fill="#ffa500"/>
<circle cx="403.80" cy="571.44" r="2.75" fill="#ffa500"/>
<circle cx="405.87" cy="550.88" r="2.75" fill="#ffa500"/>
<circle cx="407.94" cy="564.88" r="2.75" fill="#ffa500"/>
<circle cx="410.01" cy="553.94" r="2.75" fill="#ffa500"/>
<circle cx="412.08" cy="548.25" r="2.75" fill="#ffa500"/>
<circle cx="414.15" cy="531.19" r="2.75" fill="#ffa500"/>
<circle cx="416.22" cy="567.06" r="2.75" fill="#ffa500"/>
<circle cx="418.29" cy="564.00" r="2.75" fill="#ffa500"/>
<circle cx="420.36" cy="561.59" r="2.75" fill="#ffa500"/>
<circle cx="422.43" cy="567.94" r="2.75" fill="#ffa500"/>
<circle cx="424.50" cy="562.47" r="2.75" fill="#ffa500"/>
<circle cx="426.57" cy="553.06" r="2.75" fill="#ffa500"/>
<circle cx="428.64" cy="543.88" r="2.75" fill="#ffa500"/>
<circle cx="430.71" cy="555.25" r="2.75" fill="#ffa500"/>
<circle cx="432.78" cy="572.53" r="2.75" fill="#ffa500"/>
<circle cx="434.85" cy="567.94" r="2.75" fill="#ffa500"/>
<circle cx="436.92" cy="577.12" r="2.75" fill="#ffa500"/>
<circle cx="438.99" cy="525.94" r="2.75" fill="#ffa500"/>
<circle cx="441.06" cy="531.19" r="2.75" fill="#ffa500"/>
<circle cx="443.13" cy="571.88" r="2.75" fill="#ffa500"/>
<circle cx="445.20" cy="542.12" r="2.75" fill="#ffa500"/>
<circle cx="447.27" cy="543.88" r="2.75" fill="#ffa500"/>
<circle cx="449.34" cy="556.12" r="2.75" fill="#ffa500"/>
<circle cx="451.41" cy="549.56" r="2.75" fill="#ffa500"/>
<circle cx="453.48" cy="546.06" r="2.75" fill="#ffa500"/>
<circle cx="455.55" cy="565.53" r="2.75" fill="#ffa500"/>
<circle cx="457.62" cy="576.25" r="2.75" fill="#ffa500"/>
<circle cx="459.69" cy="528.12" r="2.75" fill="#ffa500"/>
<circle cx="461.76" cy="536.00" r="2.75" fill="#ffa500"/>
<circle cx="463.83" cy="542.12" r="2.75" fill="#ffa500"/>
<circle cx="465.90" cy="546.94" r="2.75" fill="#ffa500"/>
<circle cx="467.97" cy="535.12" r="2.75" fill="#ffa500"/>
<circle cx="470.04" cy="543.88" r="2.75" fill="#ffa500"/>
<circle cx="472.11" cy="549.12" r="2.75" fill="#ffa500"/>
<circle cx="474.18" cy="536.88" r="2.75" fill="#ffa500"/>
<circle cx="476.25" cy="525.94" r="2.75" fill="#ffa500"/>
<circle cx="478.32" cy="558.53" r="2.75" fill="#ffa500"/>
<circle cx="480.39" cy="575.16" r="2.75" fill="#ffa500"/>
<circle cx="482.46" cy="581.06" r="2.75" fill="#ffa500"/>
<circle cx="484.53" cy="584.12" r="2.75" fill="#ffa500"/>
<circle cx="486.60" cy="579.75" r="2.75" fill="#ffa500"/>
<circle cx="488.67" cy="585.44" r="2.75" fill="#ffa500"/>
<circle cx="490.74" cy="579.75" r="2.75" fill="#ffa500"/>
<circle cx="492.81" cy="585.44" r="2.75" fill="#ffa500"/>
<circle cx="494.88" cy="579.75" r="2.75" fill="#ffa500"/>
<circle cx="496.95" cy="585.44" r="2.75" fill="#ffa500"/>
<circle cx="499.02" cy="579.75" r="2.75" fill="#ffa500"/>
<circle cx="501.09" cy="585.44" r="2.75" fill="#ffa500"/>
<circle cx="503.16" cy="579.75" r="2.75" fill="#ffa500"/>
<circle cx="505.23" cy="585.44" r="2.75" fill="#ffa500"/>
<circle cx="507.30" cy="579.75" r="2.75" fill="#ffa500"/>
<circle cx="509.37" cy="585.44" r="2.75" fill="#ffa500"/>
<circle cx="511.44" cy="579.75" r="2.75" fill="#ffa500"/>
<circle cx="513.51" cy="585.44" r="2.75" fill="#ffa500"/>
<circle cx="515.58" cy="579.75" r="2.75" fill="#ffa500"/>
<circle cx="517.65" cy="585.44" r="2.75" fill="#ffa500"/>
<circle cx="519.72" cy="579.75" r="2.75" fill="#ffa500"/>
<circle cx="521.79" cy="585.44" r="2.75" fill="#ffa500"/>
<circle cx="523.86" cy="579.75" r="2.75" fill="#ffa500"/>
<circle cx="525.93" cy="573.19" r="2.75" fill="#ffa500"/>
<circle cx="528.00" cy="536.88" r="2.75" fill="#ffa500"/>
<circle cx="530.07" cy="518.94" r="2.75" fill="#ffa500"/>
<circle cx="532.14" cy="545.19" r="2.75" fill="#ffa500"/>
<circle cx="534.21" cy="548.47" r="2.75" fill="#ffa500"/>
<circle cx="536.28" cy="565.31" r="2.75" fill="#ffa500"/>
<circle cx="538.35" cy="548.47" r="2.75" fill="#ffa500"/>
<circle cx="540.42" cy="554.81" r="2.75" fill="#ffa500"/>
<circle cx="542.49" cy="523.75" r="2.75" fill="#ffa500"/>
<circle cx="544.56" cy="523.75" r="2.75" fill="#ffa500"/>
<circle cx="546.63" cy="522.88" r="2.75" fill="#ffa500"/>
<circle cx="548.70" cy="540.81" r="2.75" fill="#ffa500"/>
<circle cx="550.77" cy="546.06" r="2.75" fill="#ffa500"/>
<circle cx="552.84" cy="544.75" r="2.75" fill="#ffa500"/>
<circle cx="554.91" cy="536.88" r="2.75" fill="#ffa500"/>
<circle cx="556.98" cy="531.41" r="2.75" fill="#ffa500"/>
<circle cx="559.05" cy="552.41" r="2.75" fill="#ffa500"/>
<circle cx="561.12" cy="551.75" r="2.75" fill="#ffa500"/>
<circle cx="563.19" cy="536.00" r="2.75" fill="#ffa500"/>
<circle cx="565.26" cy="545.41" r="2.75" fill="#ffa500"/>
<circle cx="567.33" cy="528.34" r="2.75" fill="#ffa500"/>
<circle cx="569.40" cy="554.81" r="2.75" fill="#ffa500"/>
<circle cx="571.47" cy="552.41" r="2.75" fill="#ffa500"/>
<circle cx="573.54" cy="552.19" r="2.75" fill="#ffa500"/>
<circle cx="575.61" cy="540.81" r="2.75" fill="#ffa500"/>
<circle cx="577.68" cy="548.47" r="2.75" fill="#ffa500"/>
<circle cx="579.75" cy="546.06" r="2.75" fill="#ffa500"/>
<circle cx="581.82" cy="525.06" r="2.75" fill="#ffa500"/>
<circle cx="583.89" cy="533.81" r="2.75" fill="#ffa500"/>
<circle cx="585.96" cy="538.41" r="2.75" fill="#ffa500"/>
<circle cx="588.03" cy="539.06" r="2.75" fill="#ffa500"/>
<circle cx="590.10" cy="532.06" r="2.75" fill="#ffa500"/>
<circle cx="592.17" cy="563.34" r="2.75" fill="#ffa500"/>
<circle cx="594.24" cy="547.81" r="2.75" fill="#ffa500"/>
<circle cx="596.31" cy="543.00" r="2.75" fill="#ffa500"/>
<circle cx="598.38" cy="550.00" r="2.75" fill="#ffa500"/>
<circle cx="600.45" cy="535.34" r="2.75" fill="#ffa500"/>
<circle cx="602.52" cy="522.88" r="2.75" fill="#ffa500"/>
<circle cx="604.59" cy="539.06" r="2.75" fill="#ffa500"/>
<path d="M341.90,536.00 L342.90,535.60 L343.90,534.55 L344.90,533.18 L345.90,531.94 L346.90,531.25 L347.90,531.44 L348.90,532.89 L349.90,535.19 L350.90,537.60 L351.90,539.37 L352.90,539.93 L353.90,539.51 L354.90,538.43 L355.90,536.85 L356.90,534.98 L357.90,533.07 L358.90,531.37 L359.90,530.12 L360.90,529.49 L361.90,529.62 L362.90,530.69 L363.90,532.51 L364.90,534.69 L365.90,536.78 L366.90,538.34 L367.90,539.04 L368.90,538.80 L369.90,537.78 L370.90,536.14 L371.90,534.12 L372.90,532.03 L373.90,530.16 L374.90,528.81 L375.90,528.16 L376.90,528.43 L377.90,529.80 L378.90,531.92 L379.90,534.20 L380.90,536.01 L381.90,536.85 L382.90,536.61 L383.90,535.60 L384.90,533.95 L385.90,531.94 L386.90,529.84 L387.90,527.97 L388.90,526.62 L389.90,525.97 L390.90,526.16 L391.90,527.18 L392.90,528.88 L393.90,530.97 L394.90,533.10 L395.90,534.90 L396.90,536.08 L397.90,536.43 L398.90,535.69 L399.90,533.87 L400.90,531.35 L401.90,528.65 L402.90,526.35 L403.90,524.93 L404.90,524.67 L405.90,525.41 L406.90,526.95 L407.90,529.00 L408.90,531.17 L409.90,533.06 L410.90,534.30 L411.90,534.68 L412.90,533.96 L413.90,532.19 L414.90,529.72 L415.90,527.06 L416.90,524.75 L417.90,523.26 L418.90,522.89 L419.90,523.47 L420.90,524.77 L421.90,526.59 L422.90,528.62 L423.90,530.54 L424.90,532.02 L425.90,532.83 L426.90,532.79 L427.90,531.65 L428.90,529.59 L429.90,527.03 L430.90,524.47 L431.90,522.41 L432.90,521.27 L433.90,521.27 L434.90,522.41 L435.90,524.47 L436.90,527.03 L437.90,529.59 L438.90,531.65 L439.90,532.79 L440.90,532.74 L441.90,531.24 L442.90,528.61 L443.90,525.49 L444.90,522.64 L445.90,520.75 L446.90,520.27 L447.90,520.81 L448.90,522.06 L449.90,523.85 L450.90,525.94 L451.90,528.06 L452.90,529.93 L453.90,531.31 L454.90,532.00 L455.90,531.82 L456.90,530.41 L457.90,528.07 L458.90,525.38 L459.90,522.98 L460.90,521.45 L461.90,521.15 L462.90,521.52 L463.90,522.29 L464.90,523.34 L465.90,524.49 L466.90,525.55 L467.90,526.36 L468.90,526.77 L469.90,526.65 L470.90,525.69 L471.90,523.98 L472.90,521.75 L473.90,519.29 L474.90,516.93 L475.90,514.98 L476.90,513.70 L477.90,513.25 L478.90,513.94 L479.90,515.83 L480.90,518.44 L481.90,521.13 L482.90,523.21 L483.90,524.16 L484.90,523.87 L485.90,522.65 L486.90,520.69 L487.90,518.31 L488.90,515.89 L489.90,513.82 L490.90,512.43 L491.90,511.94 L492.90,512.63 L493.90,514.53 L494.90,517.10 L495.90,519.64 L496.90,521.43 L497.90,521.99 L498.90,521.24 L499.90,519.39 L500.90,516.79 L501.90,513.97 L502.90,511.48 L503.90,509.82 L504.90,509.32 L505.90,509.88 L506.90,511.30 L507.90,513.35 L508.90,515.69 L509.90,517.96 L510.90,519.79 L511.90,520.89 L512.90,521.06 L513.90,519.89 L514.90,517.55 L515.90,514.62 L516.90,511.84 L517.90,509.92 L518.90,509.32 L519.90,509.90 L520.90,511.35 L521.90,513.44 L522.90,515.82 L523.90,518.10 L524.90,519.91 L525.90,520.95 L526.90,521.02 L527.90,519.87 L528.90,517.63 L529.90,514.65 L530.90,511.41 L531.90,508.43 L532.90,506.19 L533.90,505.04 L534.90,505.13 L535.90,506.29 L536.90,508.26 L537.90,510.65 L538.90,513.00 L539.90,514.83 L540.90,515.79 L541.90,515.51 L542.90,513.45 L543.90,510.17 L544.90,506.73 L545.90,504.21 L546.90,503.41 L547.90,504.00 L548.90,505.49 L549.90,507.73 L550.90,510.45 L551.90,513.36 L552.90,516.11 L553.90,518.41 L554.90,519.99 L555.90,520.67 L556.90,520.14 L557.90,518.17 L558.90,515.58 L559.90,513.50 L560.90,512.82 L561.90,513.45 L562.90,515.06 L563.90,517.46 L564.90,520.39 L565.90,523.52 L566.90,526.48 L567.90,528.95 L568.90,530.65 L569.90,531.39 L570.90,531.28 L571.90,530.80 L572.90,530.10 L573.90,529.36 L574.90,528.80 L575.90,528.56 L576.90,528.70 L577.90,529.16 L578.90,529.85 L579.90,530.62 L580.90,531.34 L581.90,531.85 L582.90,532.06 L583.90,531.80 L584.90,530.93 L585.90,529.61 L586.90,528.11 L587.90,526.68 L588.90,525.61 L589.90,525.09 L590.90,525.24 L591.90,526.05 L592.90,527.40 L593.90,529.09 L594.90,530.82 L595.90,532.34 L596.90,533.39 L597.90,533.81 L598.90,532.55 L599.90,528.98 L600.90,525.30 L601.90,523.75 L602.90,525.32 L603.90,527.52" fill="none" stroke="#0000ff" stroke-width="1.7" stroke-dasharray="3.7 1.9"/>
<path d="M341.90,542.12 L342.90,542.00 L343.90,541.62 L344.90,541.07 L345.90,540.41 L346.90,539.74 L347.90,539.17 L348.90,538.78 L349.90,538.63 L350.90,538.61 L351.90,538.57 L352.90,538.50 L353.90,538.42 L354.90,538.34 L355.90,538.27 L356.90,538.21 L357.90,538.19 L358.90,538.27 L359.90,538.68 L360.90,539.36 L361.90,540.20 L362.90,541.07 L363.90,541.83 L364.90,542.35 L365.90,542.56 L366.90,542.27 L367.90,541.32 L368.90,539.95 L369.90,538.47 L370.90,537.23 L371.90,536.53 L372.90,536.50 L373.90,536.98 L374.90,537.85 L375.90,538.95 L376.90,540.07 L377.90,541.00 L378.90,541.57 L379.90,541.67 L380.90,541.35 L381.90,540.69 L382.90,539.78 L383.90,538.75 L384.90,537.78 L385.90,537.00 L386.90,536.54 L387.90,536.45 L388.90,536.68 L389.90,537.17 L390.90,537.84 L391.90,538.60 L392.90,539.32 L393.90,539.91 L394.90,540.28 L395.90,540.37 L396.90,540.23 L397.90,539.90 L398.90,539.43 L399.90,538.90 L400.90,538.37 L401.90,537.93 L402.90,537.63 L403.90,537.53 L404.90,537.73 L405.90,538.26 L406.90,538.94 L407.90,539.56 L408.90,539.91 L409.90,539.88 L410.90,539.54 L411.90,538.93 L412.90,538.14 L413.90,537.27 L414.90,536.43 L415.90,535.74 L416.90,535.28 L417.90,535.12 L418.90,535.36 L419.90,536.03 L420.90,537.00 L421.90,538.07 L422.90,539.03 L423.90,539.70 L424.90,539.94 L425.90,539.78 L426.90,539.33 L427.90,538.67 L428.90,537.89 L429.90,537.12 L430.90,536.50 L431.90,536.10 L432.90,536.01 L433.90,536.28 L434.90,536.88 L435.90,537.70 L436.90,538.58 L437.90,539.33 L438.90,539.81 L439.90,539.92 L440.90,539.48 L441.90,538.53 L442.90,537.40 L443.90,536.46 L444.90,536.01 L445.90,536.14 L446.90,536.69 L447.90,537.55 L448.90,538.55 L449.90,539.50 L450.90,540.22 L451.90,540.57 L452.90,540.50 L453.90,540.08 L454.90,539.37 L455.90,538.45 L456.90,537.46 L457.90,536.52 L458.90,535.76 L459.90,535.27 L460.90,535.13 L461.90,535.46 L462.90,536.25 L463.90,537.31 L464.90,538.37 L465.90,539.17 L466.90,539.50 L467.90,539.36 L468.90,538.90 L469.90,538.22 L470.90,537.44 L471.90,536.72 L472.90,536.21 L473.90,536.00 L474.90,536.09 L475.90,536.39 L476.90,536.87 L477.90,537.48 L478.90,538.13 L479.90,538.78 L480.90,539.33 L481.90,539.72 L482.90,539.92 L483.90,539.87 L484.90,539.45 L485.90,538.74 L486.90,537.88 L487.90,537.04 L488.90,536.38 L489.90,536.03 L490.90,536.05 L491.90,536.33 L492.90,536.82 L493.90,537.44 L494.90,538.07 L495.90,538.60 L496.90,538.95 L497.90,539.06 L498.90,538.78 L499.90,538.07 L500.90,537.09 L501.90,536.02 L502.90,535.07 L503.90,534.44 L504.90,534.25 L505.90,534.49 L506.90,535.06 L507.90,535.87 L508.90,536.74 L509.90,537.51 L510.90,538.03 L511.90,538.18 L512.90,537.87 L513.90,537.11 L514.90,536.03 L515.90,534.86 L516.90,533.84 L517.90,533.15 L518.90,532.94 L519.90,533.17 L520.90,533.73 L521.90,534.47 L522.90,535.21 L523.90,535.77 L524.90,536.00 L525.90,535.82 L526.90,535.21 L527.90,534.27 L528.90,533.16 L529.90,532.04 L530.90,531.11 L531.90,530.50 L532.90,530.31 L533.90,530.58 L534.90,531.25 L535.90,532.24 L536.90,533.41 L537.90,534.61 L538.90,535.67 L539.90,536.45 L540.90,536.84 L541.90,536.74 L542.90,535.95 L543.90,534.64 L544.90,533.13 L545.90,531.79 L546.90,530.93 L547.90,530.76 L548.90,530.90 L549.90,531.20 L550.90,531.60 L551.90,532.04 L552.90,532.45 L553.90,532.76 L554.90,532.92 L555.90,532.87 L556.90,532.48 L557.90,531.79 L558.90,530.92 L559.90,530.00 L560.90,529.19 L561.90,528.61 L562.90,528.35 L563.90,528.41 L564.90,528.66 L565.90,529.08 L566.90,529.60 L567.90,530.15 L568.90,530.67 L569.90,531.09 L570.90,531.34 L571.90,531.40 L572.90,531.14 L573.90,530.57 L574.90,529.80 L575.90,528.97 L576.90,528.26 L577.90,527.81 L578.90,527.71 L579.90,528.41 L580.90,529.80 L581.90,531.22 L582.90,532.01 L583.90,532.00 L584.90,531.72 L585.90,531.23 L586.90,530.61 L587.90,529.93 L588.90,529.29 L589.90,528.77 L590.90,528.44 L591.90,528.35 L592.90,528.57 L593.90,529.14 L594.90,529.95 L595.90,530.87 L596.90,531.76 L597.90,532.47 L598.90,532.87 L599.90,532.87 L600.90,532.14 L601.90,530.90 L602.90,529.70 L603.90,529.04" fill="none" stroke="#ff0000" stroke-width="1.7" stroke-dasharray="3.9 1.75"/>
<path d="M341.90,551.53 L342.90,549.75 L343.90,545.50 L344.90,541.40 L345.90,539.94 L346.90,540.47 L347.90,541.64 L348.90,542.93 L349.90,543.76 L350.90,543.82 L351.90,543.37 L352.90,542.55 L353.90,541.49 L354.90,540.35 L355.90,539.32 L356.90,538.57 L357.90,538.21 L358.90,538.38 L359.90,539.29 L360.90,540.72 L361.90,542.31 L362.90,543.66 L363.90,544.43 L364.90,544.47 L365.90,543.97 L366.90,543.05 L367.90,541.87 L368.90,540.60 L369.90,539.45 L370.90,538.61 L371.90,538.21 L372.90,538.32 L373.90,538.96 L374.90,539.96 L375.90,541.11 L376.90,542.15 L377.90,542.82 L378.90,543.00 L379.90,542.90 L380.90,542.67 L381.90,542.35 L382.90,542.00 L383.90,541.67 L384.90,541.41 L385.90,541.27 L386.90,541.25 L387.90,541.21 L388.90,541.14 L389.90,541.06 L390.90,540.97 L391.90,540.89 L392.90,540.83 L393.90,540.81 L394.90,540.91 L395.90,541.21 L396.90,541.64 L397.90,542.08 L398.90,542.42 L399.90,542.56 L400.90,542.65 L401.90,542.92 L402.90,543.29 L403.90,543.64 L404.90,543.85 L405.90,543.94 L406.90,544.41 L407.90,545.25 L408.90,546.26 L409.90,547.19 L410.90,547.83 L411.90,548.03 L412.90,547.95 L413.90,547.74 L414.90,547.44 L415.90,547.08 L416.90,546.72 L417.90,546.40 L418.90,546.18 L419.90,546.07 L420.90,546.12 L421.90,546.41 L422.90,546.88 L423.90,547.47 L424.90,548.08 L425.90,548.61 L426.90,548.98 L427.90,549.12 L428.90,548.86 L429.90,548.04 L430.90,546.93 L431.90,545.89 L432.90,545.27 L433.90,545.32 L434.90,546.30 L435.90,547.83 L436.90,549.27 L437.90,549.98 L438.90,549.85 L439.90,549.26 L440.90,548.34 L441.90,547.27 L442.90,546.27 L443.90,545.53 L444.90,545.20 L445.90,545.31 L446.90,545.76 L447.90,546.45 L448.90,547.21 L449.90,547.84 L450.90,548.20 L451.90,548.22 L452.90,547.96 L453.90,547.52 L454.90,547.04 L455.90,546.66 L456.90,546.50 L457.90,546.51 L458.90,546.56 L459.90,546.64 L460.90,546.72 L461.90,546.81 L462.90,546.88 L463.90,546.93 L464.90,546.94 L465.90,547.06 L466.90,547.30 L467.90,547.63 L468.90,547.94 L469.90,548.17 L470.90,548.25 L471.90,548.11 L472.90,547.73 L473.90,547.21 L474.90,546.67 L475.90,546.26 L476.90,546.07 L477.90,546.11 L478.90,546.30 L479.90,546.59 L480.90,546.93 L481.90,547.25 L482.90,547.49 L483.90,547.59 L484.90,547.51 L485.90,547.21 L486.90,546.72 L487.90,546.12 L488.90,545.52 L489.90,545.00 L490.90,544.65 L491.90,544.53 L492.90,544.66 L493.90,545.02 L494.90,545.54 L495.90,546.10 L496.90,546.58 L497.90,546.87 L498.90,546.92 L499.90,546.68 L500.90,546.19 L501.90,545.54 L502.90,544.87 L503.90,544.30 L504.90,543.95 L505.90,543.89 L506.90,544.18 L507.90,544.78 L508.90,545.57 L509.90,546.39 L510.90,547.08 L511.90,547.50 L512.90,547.58 L513.90,547.39 L514.90,546.99 L515.90,546.47 L516.90,545.94 L517.90,545.49 L518.90,545.23 L519.90,545.19 L520.90,545.27 L521.90,545.42 L522.90,545.61 L523.90,545.80 L524.90,545.95 L525.90,546.05 L526.90,546.02 L527.90,545.60 L528.90,544.84 L529.90,543.98 L530.90,543.29 L531.90,543.00 L532.90,543.19 L533.90,543.82 L534.90,544.77 L535.90,545.84 L536.90,546.82 L537.90,547.53 L538.90,547.81 L539.90,547.75 L540.90,547.55 L541.90,547.23 L542.90,546.82 L543.90,546.35 L544.90,545.88 L545.90,545.45 L546.90,545.09 L547.90,544.86 L548.90,544.75 L549.90,544.64 L550.90,544.24 L551.90,543.64 L552.90,542.98 L553.90,542.44 L554.90,542.15 L555.90,542.12 L556.90,542.12 L557.90,542.12 L558.90,542.12 L559.90,542.12 L560.90,542.12 L561.90,542.12 L562.90,542.12 L563.90,542.12 L564.90,542.12 L565.90,542.12 L566.90,542.12 L567.90,542.12 L568.90,542.12 L569.90,542.12 L570.90,542.12 L571.90,542.16 L572.90,542.26 L573.90,542.41 L574.90,542.58 L575.90,542.75 L576.90,542.89 L577.90,542.98 L578.90,543.00 L579.90,543.00 L580.90,543.00 L581.90,543.00 L582.90,543.00 L583.90,543.00 L584.90,543.00 L585.90,543.00 L586.90,543.00 L587.90,542.94 L588.90,542.72 L589.90,542.38 L590.90,541.95 L591.90,541.52 L592.90,541.15 L593.90,540.90 L594.90,540.81 L595.90,540.85 L596.90,540.96 L597.90,541.12 L598.90,541.33 L599.90,541.55 L600.90,541.76 L601.90,541.94 L602.90,542.06 L603.90,542.12" fill="none" stroke="#800080" stroke-width="1.7" stroke-dasharray="3.9 1.75"/>
<line x1="341.4" y1="595.9" x2="341.4" y2="378.4" stroke="#111" stroke-width="1.1" stroke-dasharray="3.7 2.1"/>
<line x1="51.9" y1="378.4" x2="630.3" y2="378.4" stroke="#dadada" stroke-width="1"/>
<path d="M51.9,378.4 L51.9,595.9 L630.3,595.9 L630.3,378.4" fill="none" stroke="#1a1a1a" stroke-width="1.15"/>
<line x1="48.699999999999996" y1="569.25" x2="51.9" y2="569.25" stroke="#000" stroke-width="0.8"/>
<text x="32.91 39.27" y="573.35" font-size="10.60" font-family='"Liberation Sans", sans-serif' fill="#000">10</text>
<line x1="48.699999999999996" y1="525.50" x2="51.9" y2="525.50" stroke="#000" stroke-width="0.8"/>
<text x="32.91 39.27" y="529.60" font-size="10.60" font-family='"Liberation Sans", sans-serif' fill="#000">20</text>
<line x1="48.699999999999996" y1="481.75" x2="51.9" y2="481.75" stroke="#000" stroke-width="0.8"/>
<text x="32.91 39.27" y="485.85" font-size="10.60" font-family='"Liberation Sans", sans-serif' fill="#000">30</text>
<line x1="48.699999999999996" y1="438.00" x2="51.9" y2="438.00" stroke="#000" stroke-width="0.8"/>
<text x="32.91 39.27" y="442.10" font-size="10.60" font-family='"Liberation Sans", sans-serif' fill="#000">40</text>
<line x1="48.699999999999996" y1="394.25" x2="51.9" y2="394.25" stroke="#000" stroke-width="0.8"/>
<text x="32.91 39.27" y="398.35" font-size="10.60" font-family='"Liberation Sans", sans-serif' fill="#000">50</text>
<line x1="55.50" y1="595.9" x2="55.50" y2="598.9" stroke="#000" stroke-width="0.8"/>
<text x="-42.38 -35.89 -29.40 -22.91 -16.62 -12.74 -6.25" y="0.00" transform="translate(53.30,608.10) rotate(-45)" font-size="10.81" font-family='"Liberation Sans", sans-serif' fill="#000">2023-01</text>
<line x1="119.50" y1="595.9" x2="119.50" y2="598.9" stroke="#000" stroke-width="0.8"/>
<text x="-42.38 -35.89 -29.40 -22.91 -16.62 -12.74 -6.25" y="0.00" transform="translate(117.30,608.10) rotate(-45)" font-size="10.81" font-family='"Liberation Sans", sans-serif' fill="#000">2023-02</text>
<line x1="177.31" y1="595.9" x2="177.31" y2="598.9" stroke="#000" stroke-width="0.8"/>
<text x="-42.38 -35.89 -29.40 -22.91 -16.62 -12.74 -6.25" y="0.00" transform="translate(175.11,608.10) rotate(-45)" font-size="10.81" font-family='"Liberation Sans", sans-serif' fill="#000">2023-03</text>
<line x1="241.30" y1="595.9" x2="241.30" y2="598.9" stroke="#000" stroke-width="0.8"/>
<text x="-42.38 -35.89 -29.40 -22.91 -16.62 -12.74 -6.25" y="0.00" transform="translate(239.10,608.10) rotate(-45)" font-size="10.81" font-family='"Liberation Sans", sans-serif' fill="#000">2023-04</text>
<line x1="303.24" y1="595.9" x2="303.24" y2="598.9" stroke="#000" stroke-width="0.8"/>
<text x="-42.38 -35.89 -29.40 -22.91 -16.62 -12.74 -6.25" y="0.00" transform="translate(301.04,608.10) rotate(-45)" font-size="10.81" font-family='"Liberation Sans", sans-serif' fill="#000">2023-05</text>
<line x1="367.24" y1="595.9" x2="367.24" y2="598.9" stroke="#000" stroke-width="0.8"/>
<text x="-42.38 -35.89 -29.40 -22.91 -16.62 -12.74 -6.25" y="0.00" transform="translate(365.04,608.10) rotate(-45)" font-size="10.81" font-family='"Liberation Sans", sans-serif' fill="#000">2023-06</text>
<line x1="429.17" y1="595.9" x2="429.17" y2="598.9" stroke="#000" stroke-width="0.8"/>
<text x="-42.38 -35.89 -29.40 -22.91 -16.62 -12.74 -6.25" y="0.00" transform="translate(426.97,608.10) rotate(-45)" font-size="10.81" font-family='"Liberation Sans", sans-serif' fill="#000">2023-07</text>
<line x1="493.17" y1="595.9" x2="493.17" y2="598.9" stroke="#000" stroke-width="0.8"/>
<text x="-42.38 -35.89 -29.40 -22.91 -16.62 -12.74 -6.25" y="0.00" transform="translate(490.97,608.10) rotate(-45)" font-size="10.81" font-family='"Liberation Sans", sans-serif' fill="#000">2023-08</text>
<line x1="557.17" y1="595.9" x2="557.17" y2="598.9" stroke="#000" stroke-width="0.8"/>
<text x="-42.38 -35.89 -29.40 -22.91 -16.62 -12.74 -6.25" y="0.00" transform="translate(554.97,608.10) rotate(-45)" font-size="10.81" font-family='"Liberation Sans", sans-serif' fill="#000">2023-09</text>
<line x1="619.11" y1="595.9" x2="619.11" y2="598.9" stroke="#000" stroke-width="0.8"/>
<text x="-42.38 -35.89 -29.40 -22.91 -16.62 -12.74 -6.25" y="0.00" transform="translate(616.91,608.10) rotate(-45)" font-size="10.81" font-family='"Liberation Sans", sans-serif' fill="#000">2023-10</text>
<text x="327.44 336.17 343.45 347.44" y="649.50" font-size="11.87" font-family='"Liberation Sans", sans-serif' fill="#000">Date</text>
<text x="-18.92 -10.78 -4.52 -1.31 5.87 12.74" y="0.00" transform="translate(28.00,487.30) rotate(-90)" font-size="12.19" font-family='"Liberation Sans", sans-serif' fill="#000">Values</text>
<text x="160.67 168.95 176.83 182.10 189.95 197.29 205.22 212.84 217.68 221.41 229.85 238.13 241.78 251.66 260.27 272.90 281.20 289.56 294.92 298.29 305.43 313.72 321.99 326.31 330.83 340.70 348.99 357.75 362.51 370.93 378.79 384.83 394.83 403.29 411.75 420.04 424.27 428.28 438.51 446.87 452.22 455.62 462.79 471.07 480.66 490.66 499.12 507.59 515.97" y="374.00" font-size="13.97" font-family='"Liberation Sans", sans-serif' fill="#000">Forecasting Comparison (Context=128, Horizon=128)</text>
<rect x="504.25" y="383.25" width="120.25" height="79.25" rx="2" fill="#fff" fill-opacity="0.85" stroke="#dcdcdc" stroke-width="0.8"/>
<line x1="506.75" y1="391.75" x2="529.25" y2="391.75" stroke="#4aa84e" stroke-width="1.2"/>
<text x="537.16 544.77 551.16 557.92 561.58 568.07 574.14 577.78 581.18 589.51 592.37 598.87 605.26 611.69" y="395.45" font-size="10.87" font-family='"Liberation Sans", sans-serif' fill="#000">Context window</text>
<line x1="506.75" y1="407.2" x2="529.25" y2="407.2" stroke="#ffa500" stroke-width="1.5"/>
<circle cx="518.0" cy="407.2" r="2.6" fill="#ffa500"/>
<text x="537.25 545.74 549.77 555.93 562.42 568.93 575.32 578.96 582.77 586.92 593.69 597.43" y="410.90" font-size="10.87" font-family='"Liberation Sans", sans-serif' fill="#000">Ground truth</text>
<line x1="506.75" y1="422.65" x2="529.25" y2="422.65" stroke="#0000ff" stroke-width="1.1" stroke-dasharray="3.2 2.2"/>
<text x="537.31 543.98 546.76 556.41 562.33 569.99 576.52" y="426.35" font-size="10.87" font-family='"Liberation Sans", sans-serif' fill="#000">TimeGPT</text>
<line x1="506.75" y1="438.1" x2="529.25" y2="438.1" stroke="#ff0000" stroke-width="1.6" stroke-dasharray="3.9 1.75"/>
<text x="537.31 543.98 546.76 556.41 562.54 567.55 573.72" y="441.80" font-size="10.87" font-family='"Liberation Sans", sans-serif' fill="#000">TimesFM</text>
<line x1="506.75" y1="453.55" x2="529.25" y2="453.55" stroke="#800080" stroke-width="1.6" stroke-dasharray="3.9 1.75"/>
<text x="537.31 543.98 545.93 553.55 559.58" y="457.25" font-size="10.87" font-family='"Liberation Sans", sans-serif' fill="#000">TiRex</text>
<text x="329.5" y="322.3" font-size="17.65" text-anchor="middle" font-family='"Liberation Serif", serif' fill="#000">(a) Forecasting results on D1.</text>
<text x="330.4" y="686" font-size="17.75" text-anchor="middle" font-family='"Liberation Serif", serif' fill="#000">(b) Forecasting results on Elec_Consumption.</text>
</svg></body></html>
